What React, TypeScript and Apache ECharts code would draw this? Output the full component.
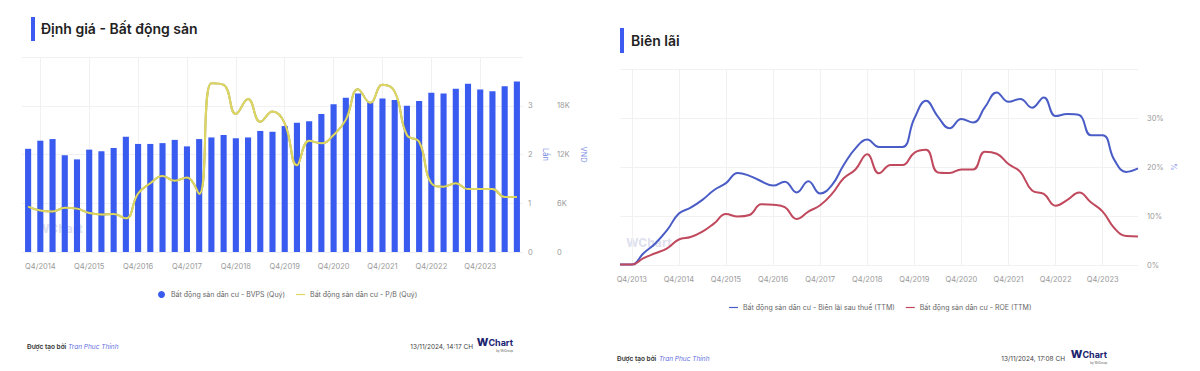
import React, { useEffect, useRef } from "react";
import * as echarts from "echarts";

const quarters = [
  "Q3/2013", "Q4/2013",
  "Q1/2014", "Q2/2014", "Q3/2014", "Q4/2014",
  "Q1/2015", "Q2/2015", "Q3/2015", "Q4/2015",
  "Q1/2016", "Q2/2016", "Q3/2016", "Q4/2016",
  "Q1/2017", "Q2/2017", "Q3/2017", "Q4/2017",
  "Q1/2018", "Q2/2018", "Q3/2018", "Q4/2018",
  "Q1/2019", "Q2/2019", "Q3/2019", "Q4/2019",
  "Q1/2020", "Q2/2020", "Q3/2020", "Q4/2020",
  "Q1/2021", "Q2/2021", "Q3/2021", "Q4/2021",
  "Q1/2022", "Q2/2022", "Q3/2022", "Q4/2022",
  "Q1/2023", "Q2/2023", "Q3/2023", "Q4/2023",
  "Q1/2024", "Q2/2024", "Q3/2024",
];

// Left chart: Q3/2014 .. Q3/2024
const valuationQuarters = quarters.slice(4);

const bvps = [
  12700, 13700, 13900, 11900, 11400, 12600, 12400, 12800, 14200, 13300,
  13300, 13400, 13800, 13000, 13900, 14100, 14400, 14000, 14100, 14900,
  14800, 15500, 15900, 16100, 17000, 18200, 19000, 19500, 18400, 18900,
  18700, 18000, 18600, 19600, 19500, 20100, 20700, 20000, 19800, 20400,
  21000,
];

const pb = [
  0.93, 0.85, 0.83, 0.91, 0.89, 0.8, 0.77, 0.78, 0.69, 1.2,
  1.41, 1.56, 1.46, 1.53, 1.19, 3.46, 3.43, 2.83, 3.14, 2.67,
  2.88, 2.64, 1.78, 2.28, 2.23, 2.4, 2.71, 3.34, 3.06, 3.43,
  3.29, 2.4, 2.26, 1.41, 1.34, 1.41, 1.29, 1.29, 1.29, 1.13,
  1.13,
];

// Right chart: Q3/2013 .. Q3/2024 (percent)
const netMargin = [
  0.1, 0.1, 2.4, 4.4, 7.1, 10.5, 11.7, 13.3, 15.3, 16.7,
  18.8, 18.2, 17.1, 16.2, 17.0, 14.8, 17.1, 14.6, 16.3, 20.4,
  23.8, 25.6, 24.1, 24.1, 24.1, 29.9, 33.5, 30.3, 27.9, 29.8,
  29.1, 32.2, 35.2, 33.3, 33.9, 32.1, 34.2, 30.4, 30.8, 30.6,
  26.5, 26.5, 21.4, 19.0, 19.7,
];

const roe = [
  0.1, 0.1, 1.4, 2.4, 3.4, 5.2, 5.7, 6.8, 8.5, 10.4,
  9.9, 10.2, 12.4, 12.3, 11.8, 9.4, 10.9, 12.2, 14.5, 17.7,
  19.5, 22.6, 18.7, 20.4, 20.4, 22.9, 23.5, 18.9, 18.8, 19.5,
  19.5, 23.1, 22.7, 20.6, 19.0, 15.2, 14.5, 12.1, 13.3, 14.8,
  12.8, 10.9, 7.5, 5.9, 5.8,
];

const lenTicks = [0, 1, 2, 3, 4];
const vndTicks = [0, 6000, 12000, 18000, 24000];
const pctTicks = [0, 10, 20, 30, 40];

const S_BVPS = "Bất động sản dân cư - BVPS (Quý)";
const S_PB = "Bất động sản dân cư - P/B (Quý)";
const S_NM = "Bất động sản dân cư - Biên lãi sau thuế (TTM)";
const S_ROE = "Bất động sản dân cư - ROE (TTM)";

const FONT = "Inter, 'Noto Sans', sans-serif";
const LINE_ICON = "path://M0,0L12,0L12,1.6L0,1.6Z";
const isQ4 = (_i: number, v: string) => typeof v === "string" && v.startsWith("Q4");

function txt(
  text: string,
  x: number,
  y: number,
  size: number,
  fill: string,
  opts: any = {}
) {
  return {
    type: "text",
    x,
    y,
    silent: true,
    style: {
      text,
      fill,
      fontSize: size,
      fontFamily: FONT,
      fontWeight: opts.weight || "normal",
      fontStyle: opts.style || "normal",
      align: opts.align || "left",
      textAlign: opts.align || "left",
      verticalAlign: "middle",
      textVerticalAlign: "middle",
      opacity: opts.opacity == null ? 1 : opts.opacity,
      rich: opts.rich,
    },
  };
}

function logo(right: number, y: number) {
  return [
    txt("{w|W}{c|Chart}", right, y, 10, "#1b2370", {
      align: "right",
      rich: {
        w: { fontSize: 11, fontWeight: 800, fill: "#1b2370", fontFamily: FONT },
        c: { fontSize: 9, fontWeight: 700, fill: "#1b2370", fontFamily: FONT },
      },
    }),
    txt("by WiGroup", right, y + 9, 3, "#555", { align: "right" }),
  ];
}

export default function App() {
  const ref = useRef<HTMLDivElement>(null);

  useEffect(() => {
    if (!ref.current) return;
    const chart = echarts.init(ref.current, undefined, { renderer: "svg" });

    const axisLabelBase = { color: "#9a9a9a", fontSize: 7.5, fontFamily: FONT };
    const splitLineStyle = { color: "#f1f1f1", width: 1 };

    const option: any = {
      animation: false,
      backgroundColor: "#ffffff",
      textStyle: { fontFamily: FONT },
      grid: [
        { left: 22, top: 57, width: 501, height: 195 },
        { left: 620, top: 69, width: 518, height: 196 },
      ],
      xAxis: [
        {
          type: "category",
          gridIndex: 0,
          data: valuationQuarters,
          boundaryGap: true,
          axisLine: { show: false },
          axisTick: { show: false },
          axisLabel: { ...axisLabelBase, interval: isQ4, margin: 10 },
          splitLine: {
            show: true,
            interval: isQ4,
            alignWithLabel: true,
            lineStyle: splitLineStyle,
          },
        },
        {
          type: "category",
          gridIndex: 1,
          data: quarters,
          boundaryGap: false,
          axisLine: { show: false },
          axisTick: { show: false },
          axisLabel: { ...axisLabelBase, interval: isQ4, margin: 10 },
          splitLine: { show: true, interval: isQ4, lineStyle: splitLineStyle },
        },
      ],
      yAxis: [
        {
          type: "value",
          gridIndex: 0,
          position: "right",
          min: lenTicks[0],
          max: lenTicks[lenTicks.length - 1],
          interval: 1,
          axisLine: { show: false },
          axisTick: { show: false },
          axisLabel: {
            ...axisLabelBase,
            margin: 5,
            showMaxLabel: false,
            padding: [0, 0, 7, 0],
          },
          splitLine: { show: true, lineStyle: splitLineStyle },
          name: "Lần",
          nameLocation: "middle",
          nameRotate: -90,
          nameGap: 18,
          nameTextStyle: { color: "#7d8fe6", fontSize: 7.5, fontFamily: FONT },
        },
        {
          type: "value",
          gridIndex: 0,
          position: "right",
          offset: 30,
          min: vndTicks[0],
          max: vndTicks[vndTicks.length - 1],
          interval: 6000,
          axisLine: { show: false },
          axisTick: { show: false },
          axisLabel: {
            ...axisLabelBase,
            margin: 4,
            showMaxLabel: false,
            padding: [0, 0, 7, 0],
            formatter: (v: number) => (v === 0 ? "0" : v / 1000 + "K"),
          },
          splitLine: { show: false },
          name: "VND",
          nameLocation: "middle",
          nameRotate: -90,
          nameGap: 26,
          nameTextStyle: { color: "#7d8fe6", fontSize: 7.5, fontFamily: FONT },
        },
        {
          type: "value",
          gridIndex: 1,
          position: "right",
          min: pctTicks[0],
          max: pctTicks[pctTicks.length - 1],
          interval: 10,
          axisLine: { show: false },
          axisTick: { show: false },
          axisLabel: {
            ...axisLabelBase,
            margin: 9,
            showMaxLabel: false,
            padding: [0, 0, 7, 0],
            formatter: "{value}%",
          },
          splitLine: { show: true, lineStyle: splitLineStyle },
          name: "%",
          nameLocation: "middle",
          nameRotate: -90,
          nameGap: 31,
          nameTextStyle: { color: "#8b8ff0", fontSize: 7.5, fontFamily: FONT },
        },
      ],
      legend: [
        {
          data: [
            { name: S_BVPS, icon: "circle" },
            { name: S_PB, icon: LINE_ICON },
          ],
          left: 153,
          top: 286,
          itemWidth: 9,
          itemHeight: 7,
          itemGap: 11,
          textStyle: { color: "#666", fontSize: 7, fontFamily: FONT },
        },
        {
          data: [
            { name: S_NM, icon: LINE_ICON },
            { name: S_ROE, icon: LINE_ICON },
          ],
          left: 724,
          top: 299,
          itemWidth: 9,
          itemHeight: 7,
          itemGap: 11,
          textStyle: { color: "#666", fontSize: 7, fontFamily: FONT },
        },
      ],
      series: [
        {
          name: S_BVPS,
          type: "bar",
          xAxisIndex: 0,
          yAxisIndex: 1,
          data: bvps,
          barWidth: "50%",
          itemStyle: { color: "#3a5bef" },
        },
        {
          name: S_PB,
          type: "line",
          xAxisIndex: 0,
          yAxisIndex: 0,
          data: pb,
          smooth: 0.45,
          symbol: "none",
          lineStyle: {
            color: "#ddd660",
            width: 2,
            shadowColor: "rgba(60,60,0,0.7)",
            shadowBlur: 1.5,
          },
          itemStyle: { color: "#ddd660" },
        },
        {
          name: S_NM,
          type: "line",
          xAxisIndex: 1,
          yAxisIndex: 2,
          data: netMargin,
          smooth: 0.45,
          symbol: "none",
          lineStyle: { color: "#4a5cc6", width: 2 },
          itemStyle: { color: "#4a5cc6" },
        },
        {
          name: S_ROE,
          type: "line",
          xAxisIndex: 1,
          yAxisIndex: 2,
          data: roe,
          smooth: 0.45,
          symbol: "none",
          lineStyle: { color: "#c0495e", width: 2 },
          itemStyle: { color: "#c0495e" },
        },
      ],
      graphic: [
        // Titles
        { type: "rect", silent: true, shape: { x: 31, y: 17, width: 4, height: 24 }, style: { fill: "#3d5af1" } },
        txt("Định giá - Bất động sản", 41, 28, 14, "#222", { weight: 600 }),
        { type: "rect", silent: true, shape: { x: 620, y: 28, width: 4, height: 25 }, style: { fill: "#3d5af1" } },
        txt("Biên lãi", 631, 40.5, 14, "#222", { weight: 600 }),
        // Watermarks
        txt("WChart", 37, 228, 12, "#3c4a9a", { weight: 800, opacity: 0.18 }),
        txt("WChart", 626, 242, 12, "#3c4a9a", { weight: 800, opacity: 0.18 }),
        // Footers
        txt("Được tạo bởi", 27, 347, 6.5, "#333", { weight: 600 }),
        txt("Tran Phuc Thinh", 68, 347, 6.5, "#5f6fe0", { style: "italic" }),
        txt("13/11/2024, 14:17 CH", 473, 347, 6.5, "#444", { align: "right" }),
        ...logo(513, 342),
        txt("Được tạo bởi", 617, 359, 6.5, "#333", { weight: 600 }),
        txt("Tran Phuc Thinh", 659, 359, 6.5, "#5f6fe0", { style: "italic" }),
        txt("13/11/2024, 17:08 CH", 1065, 359, 6.5, "#444", { align: "right" }),
        ...logo(1107, 354),
      ],
    };

    chart.setOption(option);
    return () => chart.dispose();
  }, []);

  return (
    <div
      ref={ref}
      style={{ position: "absolute", left: 0, top: 0, width: 1200, height: 371 }}
    />
  );
}
